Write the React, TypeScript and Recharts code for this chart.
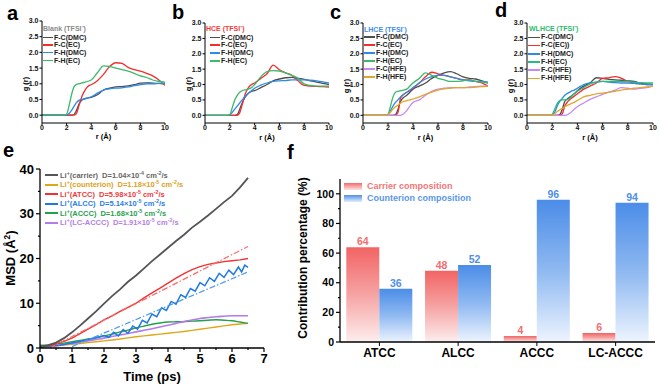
import React from 'react';
import { LineChart, Line, XAxis, YAxis, BarChart, Bar, LabelList, Legend } from 'recharts';

const FONT = '"Liberation Sans", Arial, Helvetica, sans-serif';

// ---------- RDF panels (a-d) ----------
const rGrid = [0, 1, 1.8, 2.0, 2.2, 2.4, 2.6, 2.8, 3.0, 3.25, 3.5, 3.75, 4.0, 4.5, 5.0, 5.5, 6.0, 6.5, 7.0, 7.5, 8.0, 8.5, 9.0, 9.5, 10];
const rTicks = [0, 2, 4, 6, 8, 10];
const gTicks = [0, 0.5, 1, 1.5, 2, 2.5, 3];

const aFC_DMC = [0, 0, 0, 0, 0, 0, 0.02, 0.15, 0.35, 0.48, 0.53, 0.55, 0.57, 0.65, 0.8, 0.86, 0.9, 0.91, 0.93, 0.97, 1.02, 1.03, 1.02, 1.01, 1.0];
const aFC_EC = [0, 0, 0, 0, 0, 0, 0, 0.05, 0.3, 0.6, 0.8, 0.92, 0.97, 1.1, 1.3, 1.55, 1.67, 1.65, 1.52, 1.45, 1.4, 1.33, 1.25, 1.12, 0.95];
const aFH_DMC = [0, 0, 0, 0.01, 0.05, 0.15, 0.28, 0.4, 0.47, 0.5, 0.52, 0.55, 0.58, 0.7, 0.8, 0.84, 0.86, 0.87, 0.9, 0.94, 0.97, 1.0, 1.0, 1.01, 1.02];
const aFH_EC = [0, 0, 0, 0.03, 0.3, 0.65, 0.9, 0.98, 1.0, 1.03, 1.05, 1.08, 1.12, 1.35, 1.57, 1.55, 1.5, 1.45, 1.4, 1.33, 1.25, 1.2, 1.12, 1.08, 1.05];

const bFC_DMC = [0, 0, 0, 0, 0, 0, 0.02, 0.2, 0.4, 0.6, 0.72, 0.78, 0.8, 0.9, 1.0, 1.12, 1.18, 1.22, 1.23, 1.2, 1.17, 1.12, 1.08, 1.04, 1.0];
const bFC_EC = [0, 0, 0, 0, 0, 0, 0, 0.08, 0.35, 0.7, 0.9, 1.0, 1.05, 1.2, 1.35, 1.63, 1.48, 1.38, 1.3, 1.12, 0.97, 0.95, 0.94, 0.93, 0.92];
const bFH_DMC = [0, 0, 0, 0.01, 0.1, 0.2, 0.3, 0.4, 0.5, 0.62, 0.72, 0.8, 0.88, 0.98, 1.05, 1.1, 1.12, 1.13, 1.15, 1.15, 1.15, 1.14, 1.12, 1.09, 1.05];
const bFH_EC = [0, 0, 0, 0.02, 0.25, 0.5, 0.65, 0.75, 0.8, 0.83, 0.85, 0.9, 1.0, 1.25, 1.42, 1.45, 1.44, 1.38, 1.3, 1.2, 1.02, 0.97, 0.95, 0.95, 0.95];

const cFC_DMC = [0, 0, 0, 0, 0, 0, 0.02, 0.2, 0.45, 0.58, 0.65, 0.75, 0.85, 0.95, 1.05, 1.2, 1.3, 1.38, 1.42, 1.35, 1.25, 1.2, 1.18, 1.12, 1.05];
const cFC_EC = [0, 0, 0, 0, 0, 0, 0, 0.1, 0.55, 0.68, 0.75, 0.8, 0.88, 1.05, 1.25, 1.4, 1.35, 1.3, 1.25, 1.2, 1.15, 1.15, 1.1, 1.05, 0.95];
const cFH_DMC = [0, 0, 0, 0.02, 0.15, 0.3, 0.42, 0.5, 0.6, 0.68, 0.75, 0.82, 0.9, 1.05, 1.18, 1.26, 1.3, 1.3, 1.25, 1.2, 1.15, 1.12, 1.1, 1.1, 1.08];
const cFH_EC = [0, 0, 0, 0.03, 0.3, 0.6, 0.75, 0.78, 0.8, 0.82, 0.85, 0.95, 1.05, 1.2, 1.38, 1.3, 1.2, 1.15, 1.1, 1.1, 1.12, 1.15, 1.1, 1.08, 1.05];
const cFC_HFE = [0, 0, 0, 0, 0, 0, 0, 0, 0, 0.05, 0.15, 0.3, 0.42, 0.5, 0.65, 0.78, 0.85, 0.88, 0.9, 0.9, 0.9, 0.92, 0.93, 0.95, 0.95];
const cFH_HFE = [0, 0, 0, 0.02, 0.1, 0.2, 0.28, 0.33, 0.4, 0.45, 0.48, 0.5, 0.53, 0.6, 0.68, 0.75, 0.82, 0.86, 0.88, 0.9, 0.9, 0.9, 0.92, 0.93, 0.95];

const dFC_DMC = [0, 0, 0, 0, 0, 0, 0.02, 0.2, 0.45, 0.55, 0.62, 0.7, 0.8, 0.95, 1.05, 1.22, 1.2, 1.17, 1.15, 1.14, 1.12, 1.1, 1.05, 1.02, 1.0];
const dFC_EC = [0, 0, 0, 0, 0, 0, 0, 0.05, 0.3, 0.45, 0.55, 0.62, 0.7, 0.85, 0.95, 1.05, 1.2, 1.22, 1.26, 1.2, 1.1, 1.05, 1.02, 1.0, 1.0];
const dFH_DMC = [0, 0, 0, 0.02, 0.1, 0.3, 0.45, 0.55, 0.65, 0.72, 0.78, 0.82, 0.88, 1.0, 1.05, 1.08, 1.1, 1.08, 1.06, 1.05, 1.05, 1.04, 1.02, 1.0, 1.0];
const dFH_EC = [0, 0, 0, 0.03, 0.2, 0.38, 0.48, 0.5, 0.5, 0.52, 0.6, 0.7, 0.78, 0.9, 1.02, 1.08, 1.1, 1.1, 1.1, 1.1, 1.1, 1.08, 1.06, 1.05, 1.05];
const dFC_HFE = [0, 0, 0, 0, 0, 0, 0, 0, 0, 0.03, 0.1, 0.2, 0.28, 0.4, 0.52, 0.6, 0.68, 0.75, 0.82, 0.9, 0.88, 0.85, 0.88, 0.9, 0.95];
const dFH_HFE = [0, 0, 0, 0.01, 0.05, 0.12, 0.18, 0.22, 0.28, 0.33, 0.38, 0.42, 0.48, 0.6, 0.65, 0.7, 0.72, 0.75, 0.78, 0.82, 0.85, 0.88, 0.9, 0.92, 0.95];

const COL = { gray: '#4d4d4d', red: '#f42c2c', blue: '#2f8ae6', green: '#3cb96a', violet: '#c58af4', gold: '#e2a72a', teal: '#22be80' };

// ---------- MSD panel (e) ----------
const tMSD = [0, 0.25, 0.5, 0.75, 1, 1.25, 1.5, 1.75, 2, 2.25, 2.5, 2.75, 3, 3.25, 3.5, 3.75, 4, 4.25, 4.5, 4.75, 5, 5.25, 5.5, 5.75, 6, 6.25, 6.5];
const msdCarrier = [0.3, 0.6, 1.2, 2.2, 3.5, 5.0, 6.6, 8.2, 9.9, 11.6, 13.1, 14.8, 16.2, 17.8, 19.4, 20.9, 22.4, 23.9, 25.3, 26.9, 28.2, 29.6, 31.1, 32.6, 34.0, 35.9, 38.0];
const msdCounter = [0.3, 0.4, 0.5, 0.65, 0.8, 1.0, 1.2, 1.4, 1.6, 1.8, 2.0, 2.25, 2.5, 2.7, 2.9, 3.1, 3.3, 3.5, 3.7, 3.95, 4.2, 4.45, 4.7, 4.95, 5.2, 5.35, 5.5];
const msdATCC = [0.3, 0.5, 0.9, 1.5, 2.2, 3.2, 4.2, 5.2, 6.3, 7.2, 8.2, 9.1, 10.0, 11.2, 12.3, 13.4, 14.5, 15.6, 16.6, 17.5, 18.2, 18.7, 19.0, 19.3, 19.5, 19.7, 20.0];
const msdACCC = [0.6, 0.7, 0.9, 1.1, 1.4, 1.7, 2.0, 2.3, 2.7, 3.1, 3.6, 4.0, 4.5, 4.9, 5.3, 5.6, 5.8, 5.85, 5.9, 6.0, 6.1, 6.2, 6.3, 6.2, 6.1, 5.8, 5.5];
const msdLCACCC = [0.2, 0.35, 0.5, 0.75, 1.0, 1.3, 1.6, 1.9, 2.2, 2.55, 2.9, 3.25, 3.6, 3.95, 4.3, 4.7, 5.1, 5.5, 5.9, 6.25, 6.6, 6.8, 7.0, 7.1, 7.2, 7.2, 7.2];
const alccT = [0, 0.3, 0.6, 0.9, 1.2, 1.5, 1.8, 2.0, 2.15, 2.3, 2.45, 2.6, 2.75, 2.9, 3.05, 3.2, 3.35, 3.5, 3.65, 3.8, 3.95, 4.1, 4.25, 4.4, 4.55, 4.7, 4.85, 5.0, 5.15, 5.3, 5.45, 5.6, 5.75, 5.9, 6.05, 6.2, 6.3, 6.4, 6.5];
const alccV = [0.3, 0.4, 0.6, 1.0, 1.4, 1.9, 2.4, 2.8, 2.4, 3.5, 2.7, 4.1, 3.3, 4.9, 4.2, 6.2, 5.6, 7.6, 7.0, 9.0, 8.4, 10.4, 9.8, 11.9, 11.3, 13.3, 12.7, 14.6, 13.9, 15.7, 14.9, 16.7, 15.8, 17.4, 16.4, 18.1, 17.0, 18.5, 18.0];
const atccFitT = [0.3, 6.5];
const atccFitV = [0, 22.7];
const alccFitT = [1.0, 6.5];
const alccFitV = [0.3, 17.0];
const eXTicks = [0, 0.5, 1, 1.5, 2, 2.5, 3, 3.5, 4, 4.5, 5, 5.5, 6, 6.5, 7];
const eYTicks = [0, 5, 10, 15, 20, 25, 30, 35, 40];

const eLegendNames = ['carrier', 'counterion', 'ATCC', 'ALCC', 'ACCC', 'LC-ACCC'];
const eLegendD = ['1.04×10', '1.18×10', '5.98×10', '5.14×10', '1.68×10', '1.91×10'];
const eLegendExp = ['-4', '-5', '-5', '-5', '-5', '-5'];
const eLineColors = ['#555555', '#e0a618', '#f23232', '#1f7ae0', '#24a04c', '#b57be8'];
const eTextColors = ['#666666', '#d9a21c', '#f03a3a', '#2a80e2', '#2aa052', '#b67de6'];

// ---------- Bar panel (f) ----------
const fCategories = ['ATCC', 'ALCC', 'ACCC', 'LC-ACCC'];
const carrierPct = [64, 48, 4, 6];
const counterPct = [36, 52, 96, 94];
const fYTicks = [0, 10, 20, 30, 40, 50, 60, 70, 80, 90, 100];

type Ser = { label: string; color: string; values: number[] };
type LegCfg = { left: number; top: number; titleH: number; rowH: number; swatchLeft: number; swatchW: number; textLeft: number };

function RdfLegend({ title, titleColor, series, cfg }: { title: string; titleColor: string; series: Ser[]; cfg: LegCfg }) {
  return (
    <div style={{ fontFamily: FONT, fontSize: 7, fontWeight: 700, position: 'relative', width: 80 }}>
      <div style={{ height: cfg.titleH, lineHeight: cfg.titleH + 'px', color: titleColor, whiteSpace: 'nowrap' }}>{title}</div>
      {series.map((s) => (
        <div key={s.label} style={{ height: cfg.rowH, position: 'relative', whiteSpace: 'nowrap' }}>
          <div style={{ position: 'absolute', left: cfg.swatchLeft, top: cfg.rowH / 2 - 0.75, width: cfg.swatchW, height: 1.5, background: s.color }} />
          <div style={{ position: 'absolute', left: cfg.textLeft, top: 0, lineHeight: cfg.rowH + 'px', color: '#222' }}>{s.label}</div>
        </div>
      ))}
    </div>
  );
}

function RdfChart(props: { left: number; width: number; mTop: number; mRight: number; series: Ser[]; title: string; titleColor: string; cfg: LegCfg }) {
  const { left, width, mTop, mRight, series, title, titleColor, cfg } = props;
  const data = rGrid.map((r, i) => {
    const o: any = { r };
    series.forEach((s, j) => { o['s' + j] = s.values[i]; });
    return o;
  });
  const tickStyle = { fontSize: 7, fontWeight: 700, fill: '#111' };
  return (
    <div style={{ position: 'absolute', left, top: 0 }}>
      <LineChart width={width} height={145} data={data} margin={{ top: mTop, right: mRight, left: 0, bottom: 0 }}>
        <XAxis dataKey="r" type="number" domain={[0, 10]} ticks={rTicks} interval={0} height={22} tickSize={2} tickMargin={0}
          tick={tickStyle} stroke="#000" axisLine={{ stroke: '#000', strokeWidth: 1 }} allowDataOverflow />
        <YAxis type="number" domain={[-0.25, 3]} ticks={gTicks} interval={0} width={42} tickSize={2.5} tickMargin={1}
          tickFormatter={(v: number) => v.toFixed(1)} tick={tickStyle} stroke="#000" axisLine={{ stroke: '#000', strokeWidth: 1 }} allowDataOverflow />
        <XAxis xAxisId="top" orientation="top" type="number" domain={[0, 10]} height={0} tick={false} tickLine={false} axisLine={{ stroke: '#000', strokeWidth: 1 }} />
        <YAxis yAxisId="right" orientation="right" type="number" domain={[-0.25, 3]} width={0} tick={false} tickLine={false} axisLine={{ stroke: '#000', strokeWidth: 1 }} />
        {series.map((s, j) => (
          <Line key={s.label} dataKey={'s' + j} type="monotone" stroke={s.color} strokeWidth={1.3} dot={false} isAnimationActive={false} />
        ))}
        <Legend layout="horizontal" verticalAlign="middle" align="center"
          wrapperStyle={{ left: cfg.left, top: cfg.top, width: 80, height: 'auto' }}
          content={() => <RdfLegend title={title} titleColor={titleColor} series={series} cfg={cfg} />} />
      </LineChart>
    </div>
  );
}

const EXTick = (p: any) => {
  const { x, y, payload } = p;
  const major = Number.isInteger(payload.value);
  const ay = y - 6;
  return (
    <g>
      <line x1={x} x2={x} y1={ay} y2={ay + (major ? 4 : 2)} stroke="#000" strokeWidth={1.2} />
      {major && <text x={x} y={y} dy="0.71em" textAnchor="middle" fontSize={13} fontWeight={700} fill="#000">{payload.value}</text>}
    </g>
  );
};
const EYTick = (p: any) => {
  const { x, y, payload } = p;
  const major = payload.value % 10 === 0;
  const ax = x + 6;
  return (
    <g>
      <line x1={ax} x2={ax - (major ? 4 : 2)} y1={y} y2={y} stroke="#000" strokeWidth={1.2} />
      {major && <text x={x} y={y} dy="0.355em" textAnchor="end" fontSize={13} fontWeight={700} fill="#000">{payload.value}</text>}
    </g>
  );
};
const FYTick = (p: any) => {
  const { x, y, payload } = p;
  const major = payload.value % 20 === 0;
  const ax = x + 6;
  return (
    <g>
      <line x1={ax} x2={ax - (major ? 4 : 2)} y1={y} y2={y} stroke="#000" strokeWidth={1.2} />
      {major && <text x={x} y={y} dy="0.355em" textAnchor="end" fontSize={10.5} fontWeight={700} fill="#000">{payload.value}</text>}
    </g>
  );
};

function ELegend() {
  return (
    <div style={{ fontFamily: FONT, fontSize: 7.5, fontWeight: 700, width: 200 }}>
      {eLegendNames.map((n, i) => (
        <div key={n} style={{ height: 9.5, display: 'flex', alignItems: 'center', whiteSpace: 'nowrap' }}>
          <div style={{ width: 13, height: 1.8, background: eLineColors[i], marginRight: 2 }} />
          <span style={{ color: eTextColors[i] }}>Li<sup style={{ fontSize: '0.7em', lineHeight: 0 }}>+</sup>({n})</span>
          <span style={{ color: eTextColors[i], marginLeft: 4 }}>
            D={eLegendD[i]}<sup style={{ fontSize: '0.7em', lineHeight: 0 }}>{eLegendExp[i]}</sup> cm<sup style={{ fontSize: '0.7em', lineHeight: 0 }}>-2</sup>/s
          </span>
        </div>
      ))}
    </div>
  );
}

function FLegend() {
  const rows = [
    { label: 'Carrier composition', grad: 'linear-gradient(to bottom, #f36a6a, #fde3e3)', color: '#f07676' },
    { label: 'Counterion composition', grad: 'linear-gradient(to bottom, #4e8fe8, #e3eefc)', color: '#5b97e6' },
  ];
  return (
    <div style={{ fontFamily: FONT, fontSize: 9, fontWeight: 700, width: 160 }}>
      {rows.map((r) => (
        <div key={r.label} style={{ height: 12, display: 'flex', alignItems: 'center', whiteSpace: 'nowrap' }}>
          <div style={{ width: 18, height: 7, background: r.grad, marginRight: 5 }} />
          <span style={{ color: r.color }}>{r.label}</span>
        </div>
      ))}
    </div>
  );
}

const abs = (left: number, top: number, extra: any = {}) => ({ position: 'absolute' as const, left, top, ...extra });
const letter = { fontFamily: FONT, fontSize: 20, fontWeight: 700, lineHeight: '20px', color: '#000' };
const rotTitle = (cx: number, cy: number, size: number) => ({
  position: 'absolute' as const, left: cx, top: cy, transform: 'translate(-50%, -50%) rotate(-90deg)', whiteSpace: 'nowrap' as const,
  fontFamily: FONT, fontSize: size, fontWeight: 700, color: '#000', lineHeight: 1,
});
const hTitle = (cx: number, cy: number, size: number) => ({
  position: 'absolute' as const, left: cx, top: cy, transform: 'translate(-50%, -50%)', whiteSpace: 'nowrap' as const,
  fontFamily: FONT, fontSize: size, fontWeight: 700, color: '#000', lineHeight: 1,
});

export default function App() {
  const serA: Ser[] = [
    { label: 'F-C(DMC)', color: COL.gray, values: aFC_DMC },
    { label: 'F-C(EC)', color: COL.red, values: aFC_EC },
    { label: 'F-H(DMC)', color: COL.blue, values: aFH_DMC },
    { label: 'F-H(EC)', color: COL.green, values: aFH_EC },
  ];
  const serB: Ser[] = [
    { label: 'F-C(DMC)', color: COL.gray, values: bFC_DMC },
    { label: 'F-C(EC)', color: COL.red, values: bFC_EC },
    { label: 'F-H(DMC)', color: COL.blue, values: bFH_DMC },
    { label: 'F-H(EC)', color: COL.green, values: bFH_EC },
  ];
  const serC: Ser[] = [
    { label: 'F-C(DMC)', color: COL.gray, values: cFC_DMC },
    { label: 'F-C(EC)', color: COL.red, values: cFC_EC },
    { label: 'F-H(DMC)', color: COL.blue, values: cFH_DMC },
    { label: 'F-H(EC)', color: COL.green, values: cFH_EC },
    { label: 'F-C(HFE)', color: COL.violet, values: cFC_HFE },
    { label: 'F-H(HFE)', color: COL.gold, values: cFH_HFE },
  ];
  const serD: Ser[] = [
    { label: 'F-C(DMC)', color: COL.gray, values: dFC_DMC },
    { label: 'F-C(EC))', color: COL.red, values: dFC_EC },
    { label: 'F-H(DMC)', color: COL.blue, values: dFH_DMC },
    { label: 'F-H(EC)', color: COL.teal, values: dFH_EC },
    { label: 'F-C(HFE)', color: COL.violet, values: dFC_HFE },
    { label: 'F-H(HFE)', color: COL.gold, values: dFH_HFE },
  ];

  const msdData = tMSD.map((t, i) => ({ t, carrier: msdCarrier[i], counter: msdCounter[i], atcc: msdATCC[i], accc: msdACCC[i], lcaccc: msdLCACCC[i] }));
  const alccData = alccT.map((t, i) => ({ t, alcc: alccV[i] }));
  const atccFit = atccFitT.map((t, i) => ({ t, fit: atccFitV[i] }));
  const alccFit = alccFitT.map((t, i) => ({ t, fit: alccFitV[i] }));
  const fData = fCategories.map((c, i) => ({ name: c, carrier: carrierPct[i], counter: counterPct[i] }));

  return (
    <div style={{ position: 'absolute', left: 0, top: 0, width: 659, height: 386, background: '#fff', overflow: 'hidden', fontFamily: FONT }}>
      <RdfChart left={0} width={175} mTop={21} mRight={10} series={serA} title="Blank (TFSI⁻)" titleColor="#8a8a8a"
        cfg={{ left: 43, top: 25, titleH: 8.5, rowH: 7.7, swatchLeft: 0, swatchW: 10, textLeft: 11 }} />
      <RdfChart left={163} width={175} mTop={23} mRight={9} series={serB} title="HCE (TFSI⁻)" titleColor="#f03a3a"
        cfg={{ left: 43, top: 25, titleH: 8.5, rowH: 7.8, swatchLeft: 4, swatchW: 10, textLeft: 15 }} />
      <RdfChart left={321} width={175} mTop={23} mRight={8} series={serC} title="LHCE (TFSI⁻)" titleColor="#3d8ee8"
        cfg={{ left: 43, top: 26.5, titleH: 6.5, rowH: 8, swatchLeft: 0, swatchW: 11, textLeft: 12 }} />
      <RdfChart left={485} width={174} mTop={23} mRight={6} series={serD} title="WLHCE (TFSI⁻)" titleColor="#2dbb6e"
        cfg={{ left: 44, top: 25.3, titleH: 8, rowH: 8.2, swatchLeft: -1, swatchW: 12, textLeft: 12 }} />

      {/* MSD */}
      <div style={abs(0, 150)}>
        <LineChart width={270} height={236} data={msdData} margin={{ top: 19, right: 6, left: 0, bottom: 0 }}>
          <XAxis dataKey="t" type="number" domain={[0, 7]} ticks={eXTicks} interval={0} height={38} tickSize={4} tickMargin={2}
            tickLine={false} tick={(p: any) => <EXTick {...p} />} axisLine={{ stroke: '#000', strokeWidth: 1.3 }} allowDataOverflow />
          <YAxis type="number" domain={[0, 40]} ticks={eYTicks} interval={0} width={40} tickSize={4} tickMargin={2}
            tickLine={false} tick={(p: any) => <EYTick {...p} />} axisLine={{ stroke: '#000', strokeWidth: 1.3 }} allowDataOverflow />
          <XAxis xAxisId="top" orientation="top" type="number" domain={[0, 7]} height={0} tick={false} tickLine={false} axisLine={{ stroke: '#000', strokeWidth: 1.3 }} />
          <YAxis yAxisId="right" orientation="right" type="number" domain={[0, 40]} width={0} tick={false} tickLine={false} axisLine={{ stroke: '#000', strokeWidth: 1.3 }} />
          <Line dataKey="counter" type="linear" stroke={eLineColors[1]} strokeWidth={1.4} dot={false} isAnimationActive={false} />
          <Line dataKey="accc" type="monotone" stroke={eLineColors[4]} strokeWidth={1.4} dot={false} isAnimationActive={false} />
          <Line dataKey="lcaccc" type="monotone" stroke={eLineColors[5]} strokeWidth={1.6} dot={false} isAnimationActive={false} />
          <Line data={alccData} dataKey="alcc" type="linear" stroke={eLineColors[3]} strokeWidth={1.5} dot={false} isAnimationActive={false} />
          <Line dataKey="atcc" type="linear" stroke={eLineColors[2]} strokeWidth={1.4} dot={false} isAnimationActive={false} />
          <Line dataKey="carrier" type="linear" stroke={eLineColors[0]} strokeWidth={1.8} dot={false} isAnimationActive={false} />
          <Line data={atccFit} dataKey="fit" type="linear" stroke="#f56c6c" strokeWidth={1.2} strokeDasharray="6 2 1.5 2" dot={false} isAnimationActive={false} />
          <Line data={alccFit} dataKey="fit" type="linear" stroke="#4d9ae8" strokeWidth={1.2} strokeDasharray="6 2 1.5 2" dot={false} isAnimationActive={false} />
          <Legend layout="horizontal" verticalAlign="middle" align="center"
            wrapperStyle={{ left: 45, top: 20.5, width: 200, height: 'auto' }} content={() => <ELegend />} />
        </LineChart>
      </div>

      {/* Bars */}
      <div style={abs(290, 150)}>
        <BarChart width={369} height={236} data={fData} margin={{ top: 29, right: 4, left: 0, bottom: 0 }} barCategoryGap="8%" barGap={0}>
          <defs>
            <linearGradient id="fRed" x1="0" y1="0" x2="0" y2="1">
              <stop offset="0%" stopColor="#f26464" />
              <stop offset="50%" stopColor="#f6a3a3" />
              <stop offset="100%" stopColor="#fdeeee" />
            </linearGradient>
            <linearGradient id="fBlue" x1="0" y1="0" x2="0" y2="1">
              <stop offset="0%" stopColor="#4b8de8" />
              <stop offset="50%" stopColor="#8fb9f1" />
              <stop offset="100%" stopColor="#edf4fe" />
            </linearGradient>
          </defs>
          <XAxis dataKey="name" height={44} tickSize={4} tickMargin={2} interval={0}
            tick={{ fontSize: 12, fontWeight: 700, fill: '#000' }} stroke="#000" axisLine={{ stroke: '#000', strokeWidth: 1.3 }} />
          <YAxis type="number" domain={[0, 110]} ticks={fYTicks} interval={0} width={50} tickSize={4} tickMargin={2}
            tickLine={false} tick={(p: any) => <FYTick {...p} />} axisLine={{ stroke: '#000', strokeWidth: 1.3 }} allowDataOverflow />
          <XAxis xAxisId="top" orientation="top" dataKey="name" height={0} tick={false} tickLine={false} axisLine={{ stroke: '#000', strokeWidth: 1.3 }} />
          <YAxis yAxisId="right" orientation="right" type="number" domain={[0, 110]} width={0} tick={false} tickLine={false} axisLine={{ stroke: '#000', strokeWidth: 1.3 }} />
          <Bar dataKey="carrier" fill="url(#fRed)" isAnimationActive={false}>
            <LabelList dataKey="carrier" position="top" offset={2} fill="#ef6f6f" fontSize={10.5} fontWeight={700} />
          </Bar>
          <Bar dataKey="counter" fill="url(#fBlue)" isAnimationActive={false}>
            <LabelList dataKey="counter" position="top" offset={2} fill="#4f8fe6" fontSize={10.5} fontWeight={700} />
          </Bar>
          <Legend layout="horizontal" verticalAlign="middle" align="center"
            wrapperStyle={{ left: 54, top: 30, width: 160, height: 'auto' }} content={() => <FLegend />} />
        </BarChart>
      </div>

      {/* Panel letters */}
      <div style={abs(7, 3, letter)}>a</div>
      <div style={abs(172, 2, letter)}>b</div>
      <div style={abs(330, 1.5, letter)}>c</div>
      <div style={abs(495, 0, letter)}>d</div>
      <div style={abs(3, 140, letter)}>e</div>
      <div style={abs(287, 142, letter)}>f</div>

      {/* Axis titles */}
      <div style={hTitle(103.5, 137, 7.5)}>r (Å)</div>
      <div style={hTitle(267, 138, 7.5)}>r (Å)</div>
      <div style={hTitle(425.5, 138, 7.5)}>r (Å)</div>
      <div style={hTitle(590, 138, 7.5)}>r (Å)</div>
      <div style={rotTitle(26, 84, 7.5)}>g (r)</div>
      <div style={rotTitle(189, 84, 7.5)}>g (r)</div>
      <div style={rotTitle(347, 86, 7.5)}>g (r)</div>
      <div style={rotTitle(511, 86, 7.5)}>g (r)</div>
      <div style={hTitle(152, 376, 13)}>Time (ps)</div>
      <div style={rotTitle(10, 258, 13)}>MSD (Å<sup style={{ fontSize: '0.65em' }}>2</sup>)</div>
      <div style={rotTitle(303, 258, 12)}>Contribution percentage (%)</div>
    </div>
  );
}
